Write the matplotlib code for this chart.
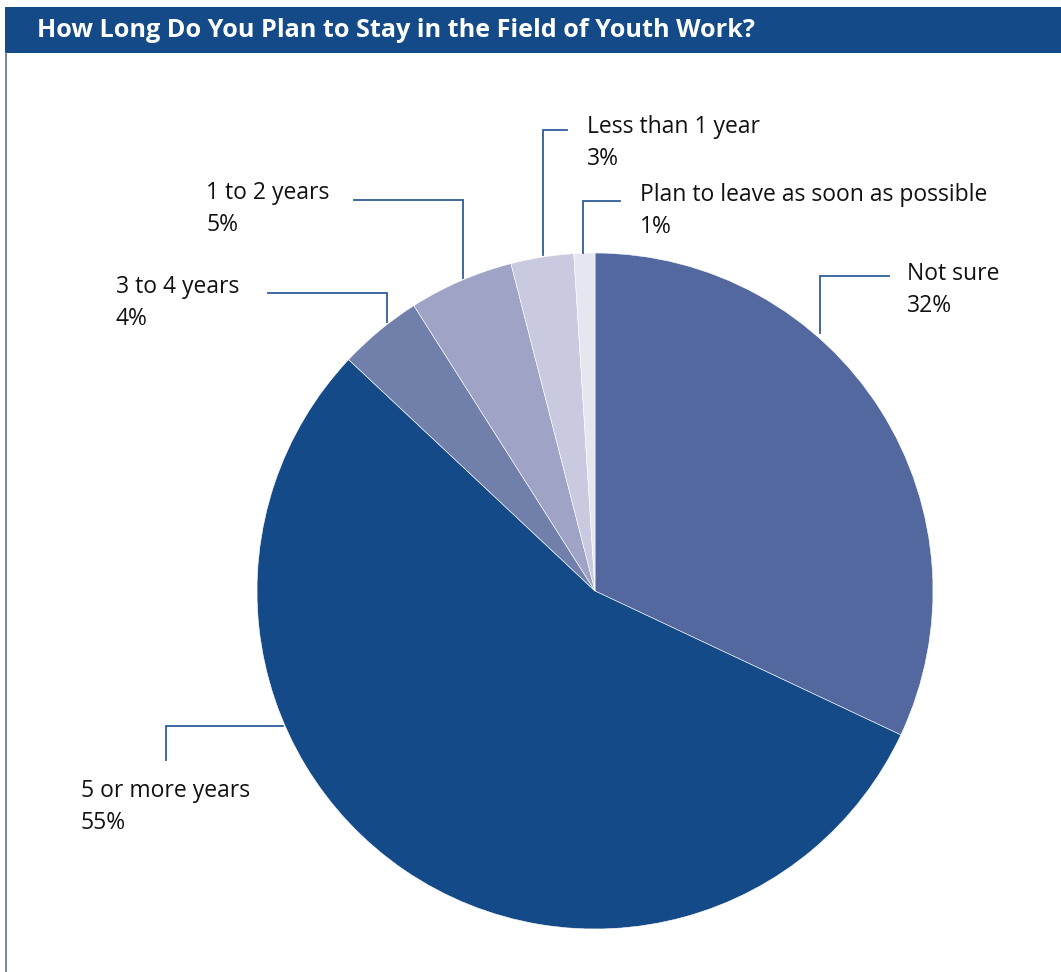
import matplotlib
matplotlib.use("Agg")
import matplotlib.pyplot as plt
from matplotlib.patches import Rectangle
import numpy as np

title = "How Long Do You Plan to Stay in the Field of Youth Work?"
categories = ["Not sure", "5 or more years", "3 to 4 years", "1 to 2 years",
              "Less than 1 year", "Plan to leave as soon as possible"]
values = [32, 55, 4, 5, 3, 1]
colors = ["#52689e", "#134a87", "#717fab", "#9fa3c6", "#c9cadf", "#e6e6f1"]

W, H = 1061, 972
fig = plt.figure(figsize=(W / 100, H / 100), dpi=100)
ax = fig.add_axes([0, 0, 1, 1])
ax.set_xlim(0, W)
ax.set_ylim(0, H)
ax.set_aspect("equal")
ax.axis("off")

def Y(y):
    return H - y

font = ["Open Sans", "DejaVu Sans"]
blue = "#134a87"
line_c = "#2f5e96"

# title bar and frame
ax.add_patch(Rectangle((5, Y(53)), W - 5, 46, facecolor=blue, edgecolor="none", zorder=1))
ax.plot([5.5, 5.5], [0, Y(53)], color="#5a6fa3", lw=1.2, zorder=1)
ax.text(37, Y(31), title, color="white", fontsize=18.2, fontweight="bold",
        family=["Open Sans", "DejaVu Sans"], va="center", ha="left")

cx, cy, r = 595, 591, 338
ax.pie(values, colors=colors, startangle=90, counterclock=False,
       center=(cx, Y(cy)), radius=r, frame=True,
       wedgeprops=dict(edgecolor="white", linewidth=0.4))
ax.set_xlim(0, W)
ax.set_ylim(0, H)
ax.axis("off")

# leader lines (pixel coordinates, top-left origin)
leaders = [
    [(820, 333), (820, 276), (889, 276)],
    [(166, 760), (166, 726), (283, 726)],
    [(387, 322), (387, 293), (268, 293)],
    [(463, 278), (463, 200), (354, 200)],
    [(543, 255), (543, 130), (567, 130)],
    [(583, 253), (583, 201), (620, 201)],
]
label_pos = [(907, 274), (81, 791), (116, 287), (206, 193), (587, 127), (640, 195)]

for pts, (tx, ty), cat, v in zip(leaders, label_pos, categories, values):
    xs = [p[0] for p in pts]
    ys = [Y(p[1]) for p in pts]
    ax.plot(xs, ys, color=line_c, lw=1.3, solid_joinstyle="miter")
    ax.text(tx, Y(ty), cat, fontsize=16.5, family=font, color="#111111",
            ha="left", va="center")
    ax.text(tx, Y(ty + 32), f"{v}%", fontsize=16.5, family=font, color="#111111",
            ha="left", va="center")

fig.savefig("out.png", dpi=100, facecolor="white")
